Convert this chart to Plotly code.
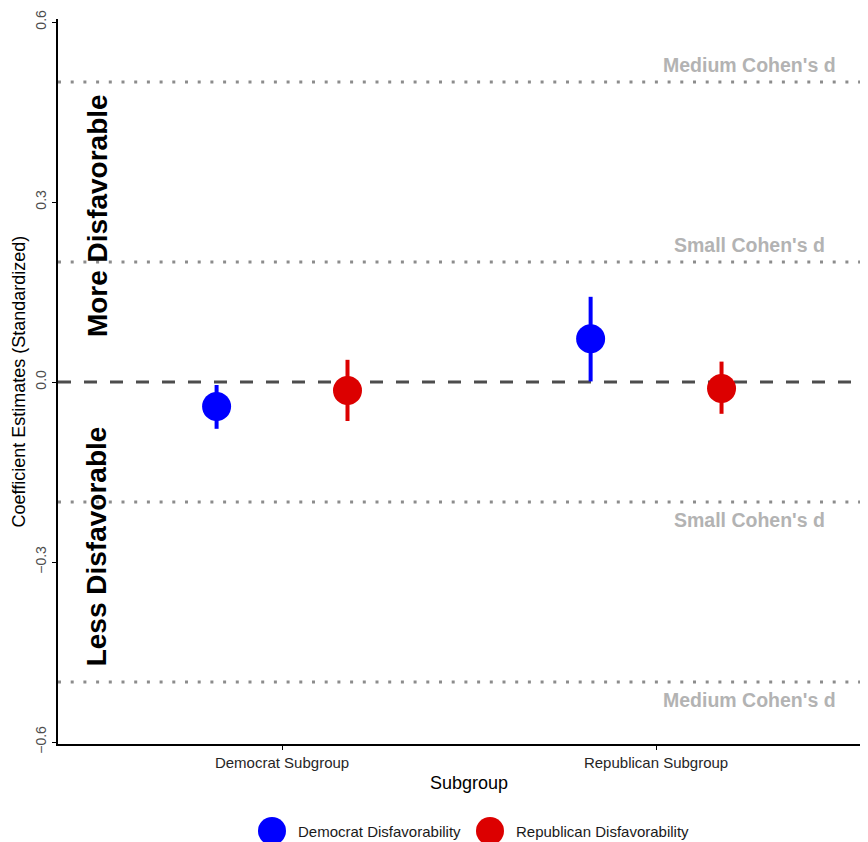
import plotly.graph_objects as go

# ---- data ----
subgroups = ["Democrat Subgroup", "Republican Subgroup"]
series_names = ["Democrat Disfavorability", "Republican Disfavorability"]
estimates = {
    "Democrat Disfavorability": [-0.041, 0.072],
    "Republican Disfavorability": [-0.014, -0.011],
}
ci_low = {
    "Democrat Disfavorability": [-0.078, 0.001],
    "Republican Disfavorability": [-0.065, -0.053],
}
ci_high = {
    "Democrat Disfavorability": [-0.005, 0.142],
    "Republican Disfavorability": [0.037, 0.034],
}
cohen_levels = [0.5, 0.2, -0.2, -0.5]
cohen_labels = ["Medium Cohen's d", "Small Cohen's d", "Small Cohen's d", "Medium Cohen's d"]
y_ticks = [-0.6, -0.3, 0.0, 0.3, 0.6]
y_tick_text = ["\u22120.6", "\u22120.3", "0.0", "0.3", "0.6"]

# ---- styles ----
colors = {"Democrat Disfavorability": "#0000ff", "Republican Disfavorability": "#dc0000"}
dodge = {"Democrat Disfavorability": -0.175, "Republican Disfavorability": 0.175}
FONT = "Liberation Sans, Arial, Helvetica, sans-serif"

fig = go.Figure()

for s in series_names:
    xs = [i + dodge[s] for i in range(len(subgroups))]
    est = estimates[s]
    plus = [h - e for h, e in zip(ci_high[s], est)]
    minus = [e - l for e, l in zip(est, ci_low[s])]
    fig.add_trace(go.Scatter(
        x=xs, y=est, mode="markers", name=s, showlegend=False,
        marker=dict(size=29, color=colors[s], line=dict(width=0)),
        error_y=dict(type="data", symmetric=False, array=plus, arrayminus=minus,
                     thickness=4, width=0, color=colors[s]),
    ))

shapes = []
# zero line
shapes.append(dict(type="line", xref="paper", x0=0, x1=1, yref="y", y0=0, y1=0,
                   line=dict(color="#4d4d4d", width=3, dash="13px,13px"), layer="below"))
for lv in cohen_levels:
    shapes.append(dict(type="line", xref="paper", x0=0, x1=1, yref="y", y0=lv, y1=lv,
                       line=dict(color="#8c8c8c", width=3, dash="3px,9.7px"), layer="below"))

annotations = []
for lv, lab in zip(cohen_levels, cohen_labels):
    annotations.append(dict(x=1.25, y=lv, xref="x", yref="y", text=lab, showarrow=False,
                            xanchor="center", yanchor="middle",
                            yshift=17 if lv > 0 else -18,
                            font=dict(family=FONT, size=19.5, color="#b3b3b3", weight="bold")))
annotations.append(dict(x=-0.495, y=0.278, xref="x", yref="y", text="<b>More Disfavorable</b>",
                        showarrow=False, textangle=-90, xanchor="center", yanchor="middle",
                        font=dict(family=FONT, size=28, color="#000000")))
annotations.append(dict(x=-0.495, y=-0.274, xref="x", yref="y", text="<b>Less Disfavorable</b>",
                        showarrow=False, textangle=-90, xanchor="center", yanchor="middle",
                        font=dict(family=FONT, size=28, color="#000000")))
# axis titles
annotations.append(dict(x=0, y=0.5, xref="paper", yref="paper", xshift=-40,
                        xanchor="center", yanchor="middle",
                        text="Coefficient Estimates (Standardized)", showarrow=False,
                        textangle=-90, font=dict(family=FONT, size=18, color="#000000")))
annotations.append(dict(x=0.5, y=-0.0538, xref="x", yref="paper", text="Subgroup",
                        xanchor="center", yanchor="middle",
                        showarrow=False, font=dict(family=FONT, size=18, color="#000000")))

# custom legend (large circles) -- positions in pixels relative to plot left edge
plot_w = 818
leg_px = [214, 432]
leg_y = -0.12
for s, px in zip(series_names, leg_px):
    lx = px / plot_w
    shapes.append(dict(type="circle", xref="paper", yref="paper", xsizemode="pixel",
                       ysizemode="pixel", xanchor=lx, yanchor=leg_y,
                       x0=-14, x1=14, y0=-14, y1=14,
                       fillcolor=colors[s], line=dict(width=0)))
    annotations.append(dict(x=lx, y=leg_y, xref="paper", yref="paper", xshift=24,
                            xanchor="left", yanchor="middle", text=s, showarrow=False,
                            font=dict(family=FONT, size=15, color="#1a1a1a")))

fig.update_layout(
    width=868, height=834,
    margin=dict(l=50, r=0, t=11, b=98, autoexpand=False),
    plot_bgcolor="white", paper_bgcolor="white",
    showlegend=False,
    shapes=shapes, annotations=annotations,
    xaxis=dict(range=[-0.599, 1.588], tickvals=list(range(len(subgroups))), ticktext=subgroups,
               automargin=False,
               showgrid=False, zeroline=False, showline=True, linecolor="black", linewidth=2,
               ticks="outside", ticklen=4, tickcolor="black", tickwidth=1,
               tickfont=dict(family=FONT, size=15, color="#262626")),
    yaxis=dict(range=[-0.6033, 0.605], tickvals=y_ticks, ticktext=y_tick_text,
               tickangle=-90, automargin=False,
               showgrid=False, zeroline=False, showline=True, linecolor="black", linewidth=2,
               ticks="outside", ticklen=4, tickcolor="black", tickwidth=1,
               tickfont=dict(family=FONT, size=14, color="#4d4d4d")),
)

fig.write_html("out.html")
